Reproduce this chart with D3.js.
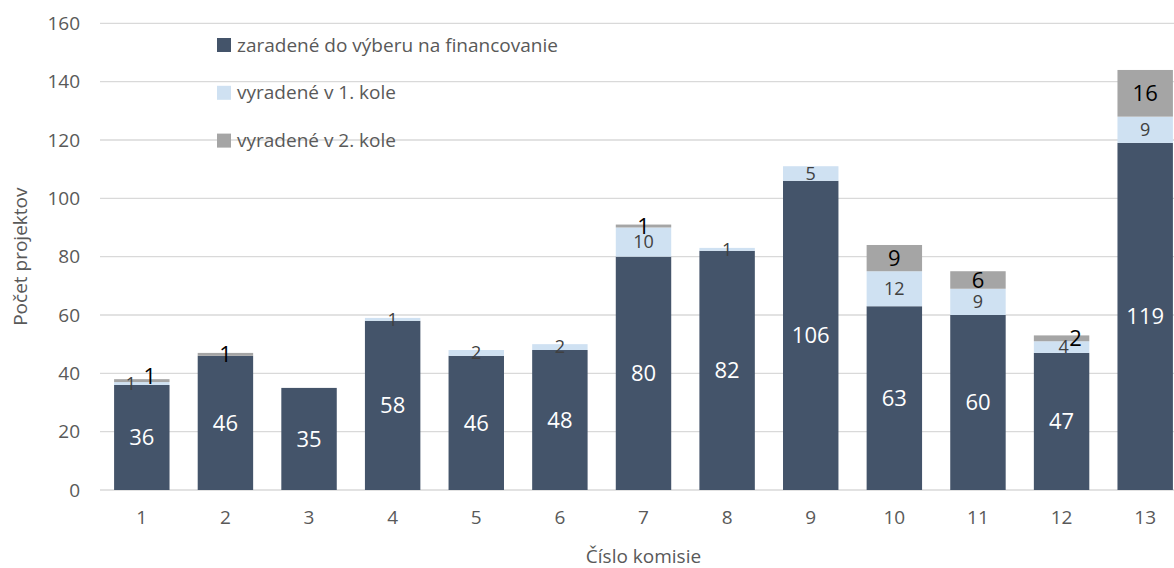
<!DOCTYPE html>
<html>
<head>
<meta charset="utf-8">
<script src="https://cdn.jsdelivr.net/npm/d3@7"></script>
<style>
  body { margin: 0; background: #fff; }
  text { font-family: 'Open Sans', sans-serif; }
</style>
</head>
<body>
<div id="chart-area"></div>
<script>
const svgWidth = 1174;
const svgHeight = 568;

// data
const commissions = ['1','2','3','4','5','6','7','8','9','10','11','12','13'];
const selected = [36, 46, 35, 58, 46, 48, 80, 82, 106, 63, 60, 47, 119];
const outRound1 = [1, 0, 0, 1, 2, 2, 10, 1, 5, 12, 9, 4, 9];
const outRound2 = [1, 1, 0, 0, 0, 0, 1, 0, 0, 9, 6, 2, 16];
const seriesNames = ['zaradené do výberu na financovanie', 'vyradené v 1. kole', 'vyradené v 2. kole'];
const yTicks = [0, 20, 40, 60, 80, 100, 120, 140, 160];

const colors = ['#44546a', '#cfe1f2', '#a5a5a5'];
const labelColors = ['#ffffff', '#404040', '#000000'];
const labelSizes = [22, 18, 22];

const plotLeft = 100, plotRight = 1187, plotTop = 23.3, plotBottom = 490;

const svg = d3.select('#chart-area')
  .append('svg')
    .attr('width', svgWidth)
    .attr('height', svgHeight);

const x = d3.scaleBand()
  .domain(commissions)
  .range([plotLeft, plotRight])
  .paddingInner(0.337)
  .paddingOuter(0.337 / 2);

const y = d3.scaleLinear()
  .domain([0, 160])
  .range([plotBottom, plotTop]);

// gridlines
svg.append('g')
  .selectAll('line')
  .data(yTicks)
  .enter()
  .append('line')
    .attr('x1', plotLeft)
    .attr('x2', svgWidth)
    .attr('y1', d => y(d))
    .attr('y2', d => y(d))
    .attr('stroke', '#d9d9d9')
    .attr('stroke-width', 1.3);

// y axis labels
const yAxis = svg.append('g')
  .attr('transform', `translate(${plotLeft - 20},0)`)
  .call(d3.axisLeft(y).tickValues(yTicks).tickSize(0).tickPadding(0));
yAxis.select('.domain').remove();
yAxis.selectAll('text')
  .attr('font-family', "'Open Sans', sans-serif")
  .attr('font-size', 19)
  .attr('fill', '#595959');

// x axis labels
const xAxis = svg.append('g')
  .attr('transform', `translate(0,${plotBottom + 20})`)
  .call(d3.axisBottom(x).tickSize(0).tickPadding(0));
xAxis.select('.domain').remove();
xAxis.selectAll('text')
  .attr('font-family', "'Open Sans', sans-serif")
  .attr('font-size', 19)
  .attr('fill', '#595959');

// stacked data
const rows = commissions.map((c, i) => ({ c: c, s0: selected[i], s1: outRound1[i], s2: outRound2[i] }));
const stack = d3.stack().keys(['s0', 's1', 's2'])(rows);

const layers = svg.append('g')
  .selectAll('g')
  .data(stack)
  .enter()
  .append('g')
    .attr('fill', (d, i) => colors[i]);

layers.selectAll('rect')
  .data(d => d)
  .enter()
  .append('rect')
    .attr('x', d => x(d.data.c))
    .attr('width', x.bandwidth())
    .attr('y', d => y(d[1]))
    .attr('height', d => y(d[0]) - y(d[1]));

// labels: thin neighbouring segments get pushed apart sideways
const labelDx = (k, d) => {
  const r = d.data;
  if (k === 0 || r.s1 === 0 || r.s2 === 0 || r.s1 > 4 || r.s2 > 4) return 0;
  if (k === 1) return r.s1 <= 2 ? -11 : 2;
  return r.s1 <= 2 ? 8 : 14;
};
const labelDy = (k, d) => {
  const r = d.data;
  return (k === 2 && r.s1 > 0 && r.s1 <= 2 && r.s2 <= 2) ? -4 : 0;
};

stack.forEach((layer, k) => {
  svg.append('g')
    .selectAll('text')
    .data(layer.filter(d => d[1] - d[0] > 0))
    .enter()
    .append('text')
      .text(d => d[1] - d[0])
      .attr('x', d => x(d.data.c) + x.bandwidth() / 2 + labelDx(k, d))
      .attr('y', d => y((d[0] + d[1]) / 2) + labelDy(k, d))
      .attr('dy', '0.35em')
      .attr('text-anchor', 'middle')
      .attr('font-size', labelSizes[k])
      .attr('fill', labelColors[k]);
});

// legend
const legend = svg.append('g')
  .selectAll('g')
  .data(seriesNames)
  .enter()
  .append('g')
    .attr('transform', (d, i) => `translate(217,${45 + i * 47.8})`);
legend.append('rect')
  .attr('x', 0)
  .attr('y', -7)
  .attr('width', 14)
  .attr('height', 14)
  .attr('fill', (d, i) => colors[i]);
legend.append('text')
  .text(d => d)
  .attr('x', 20)
  .attr('dy', '0.35em')
  .attr('font-size', 19)
  .attr('fill', '#595959');

// axis titles
svg.append('text')
  .text('Číslo komisie')
  .attr('x', (plotLeft + plotRight) / 2)
  .attr('y', 556)
  .attr('dy', '0.35em')
  .attr('text-anchor', 'middle')
  .attr('font-size', 19)
  .attr('fill', '#595959');

svg.append('text')
  .text('Počet projektov')
  .attr('transform', `translate(20,${(plotTop + plotBottom) / 2}) rotate(-90)`)
  .attr('dy', '0.35em')
  .attr('text-anchor', 'middle')
  .attr('font-size', 19)
  .attr('fill', '#595959');
</script>
</body>
</html>
